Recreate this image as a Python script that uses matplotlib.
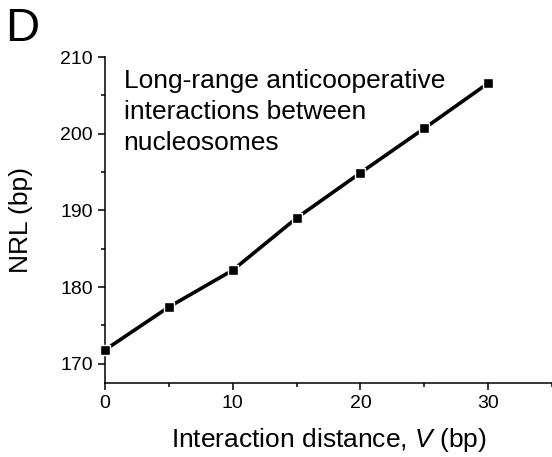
import numpy as np
import matplotlib.pyplot as plt
from matplotlib.ticker import MultipleLocator

plt.rcParams['font.family'] = ['Liberation Sans', 'DejaVu Sans']
plt.rcParams['mathtext.fontset'] = 'custom'
plt.rcParams['mathtext.rm'] = 'Liberation Sans'
plt.rcParams['mathtext.it'] = 'Liberation Sans:italic'

distance = [0, 5, 10, 15, 20, 25, 30]
nrl = [171.8, 177.4, 182.2, 189.0, 194.9, 200.7, 206.6]

fig = plt.figure(figsize=(5.52, 4.57), dpi=100)
ax = fig.add_axes([0.19, 0.162, 0.81, 0.713])

ax.plot(distance, nrl, '-s', color='black', lw=2.6, ms=6.5,
        mfc='black', mec='white', mew=1.0, clip_on=False, zorder=3)

ax.set_xlim(0, 35)
ax.set_ylim(167.5, 210)
ax.xaxis.set_major_locator(MultipleLocator(10))
ax.xaxis.set_minor_locator(MultipleLocator(5))
ax.yaxis.set_major_locator(MultipleLocator(10))
ax.yaxis.set_minor_locator(MultipleLocator(5))
for s in ['top', 'right']:
    ax.spines[s].set_visible(False)
for s in ['left', 'bottom']:
    ax.spines[s].set_linewidth(1.1)
ax.tick_params(which='major', direction='out', length=5, width=1.1, labelsize=14)
ax.tick_params(which='minor', direction='out', length=3, width=1.1)

ax.set_xlabel(r'Interaction distance, $V$ (bp)', fontsize=19, labelpad=10)
ax.set_ylabel('NRL (bp)', fontsize=19, labelpad=20)

ax.text(0.042, 0.965, 'Long-range anticooperative\ninteractions between\nnucleosomes',
        transform=ax.transAxes, fontsize=19, va='top', ha='left', linespacing=1.37)

fig.text(0.01, 0.985, 'D', fontsize=34, va='top', ha='left')

fig.savefig('out.png', dpi=100)
